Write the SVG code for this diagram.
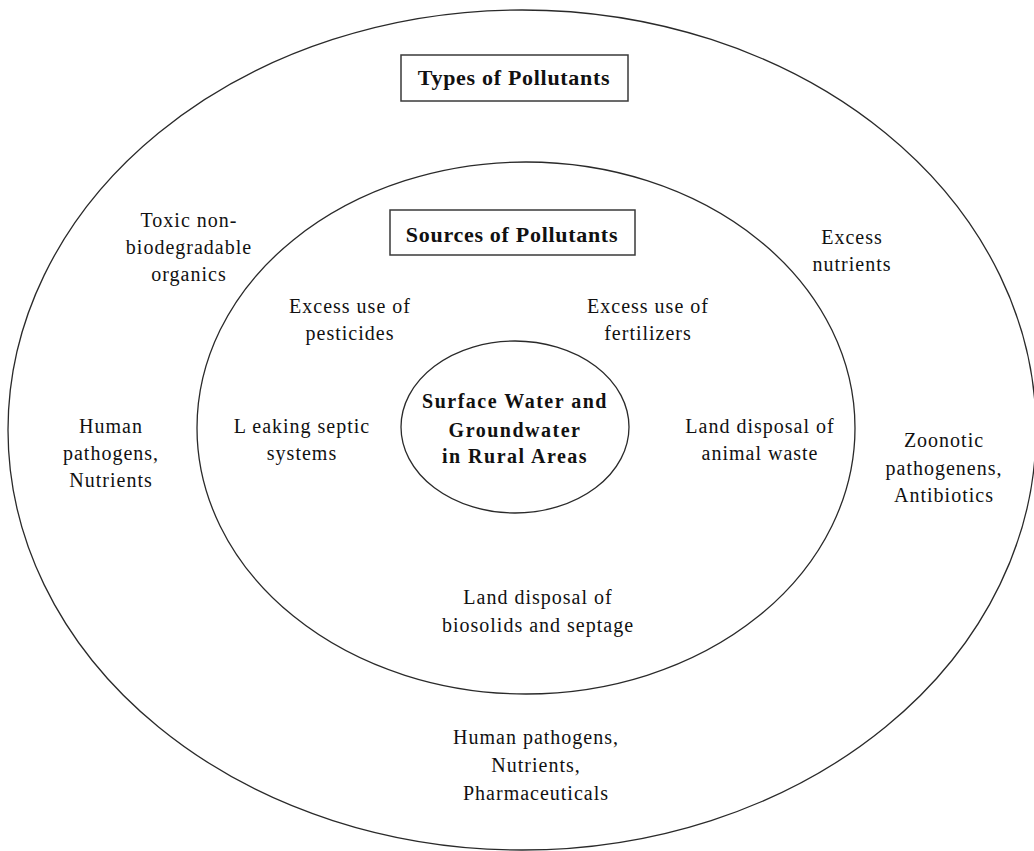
<svg xmlns="http://www.w3.org/2000/svg" width="1034" height="851" viewBox="0 0 1034 851">
<style>
.ring{fill:none;stroke:#2a2a2a;stroke-width:1.3}
.box{fill:#fff;stroke:#3a3a3a;stroke-width:1.5}
text{font-family:"Liberation Serif","Times New Roman",serif;fill:#111;text-anchor:middle}
.t{font-size:20px;letter-spacing:1px}
.b{font-size:22px;font-weight:bold;letter-spacing:0.7px}
.c{font-size:20px;font-weight:bold;letter-spacing:1.5px}
</style>
<rect width="1034" height="851" fill="#fff"/>
<g id="rings">
<ellipse id="outer" class="ring" cx="522" cy="430" rx="514" ry="420"/>
<ellipse id="middle" class="ring" cx="526" cy="428" rx="329" ry="266"/>
<ellipse id="inner" class="ring" cx="515" cy="427" rx="114" ry="86"/>
</g>
<g id="types-title">
<rect class="box" x="401" y="55" width="227" height="46"/>
<text class="b" x="514" y="85">Types of Pollutants</text>
</g>
<g id="sources-title">
<rect class="box" x="390" y="210" width="245" height="45"/>
<text class="b" x="512" y="242">Sources of Pollutants</text>
</g>
<g id="center">
<text class="c" x="515" y="408">Surface Water and</text>
<text class="c" x="515" y="437">Groundwater</text>
<text class="c" x="515" y="463">in Rural Areas</text>
</g>
<g id="toxic">
<text class="t" x="189" y="227">Toxic non-</text>
<text class="t" x="189" y="254">biodegradable</text>
<text class="t" x="189" y="281">organics</text>
</g>
<g id="excess-nutrients">
<text class="t" x="852" y="244">Excess</text>
<text class="t" x="852" y="271">nutrients</text>
</g>
<g id="pesticides">
<text class="t" x="350" y="313">Excess use of</text>
<text class="t" x="350" y="340">pesticides</text>
</g>
<g id="fertilizers">
<text class="t" x="648" y="313">Excess use of</text>
<text class="t" x="648" y="340">fertilizers</text>
</g>
<g id="human-pathogens-left">
<text class="t" x="111" y="433">Human</text>
<text class="t" x="111" y="460">pathogens,</text>
<text class="t" x="111" y="487">Nutrients</text>
</g>
<g id="septic">
<text class="t" x="302" y="433">L eaking septic</text>
<text class="t" x="302" y="460">systems</text>
</g>
<g id="animal-waste">
<text class="t" x="760" y="433">Land disposal of</text>
<text class="t" x="760" y="460">animal waste</text>
</g>
<g id="zoonotic">
<text class="t" x="944" y="447">Zoonotic</text>
<text class="t" x="944" y="475">pathogenens,</text>
<text class="t" x="944" y="502">Antibiotics</text>
</g>
<g id="biosolids">
<text class="t" x="538" y="604">Land disposal of</text>
<text class="t" x="538" y="632">biosolids and septage</text>
</g>
<g id="human-pathogens-bottom">
<text class="t" x="536" y="744">Human pathogens,</text>
<text class="t" x="536" y="772">Nutrients,</text>
<text class="t" x="536" y="800">Pharmaceuticals</text>
</g>
</svg>
